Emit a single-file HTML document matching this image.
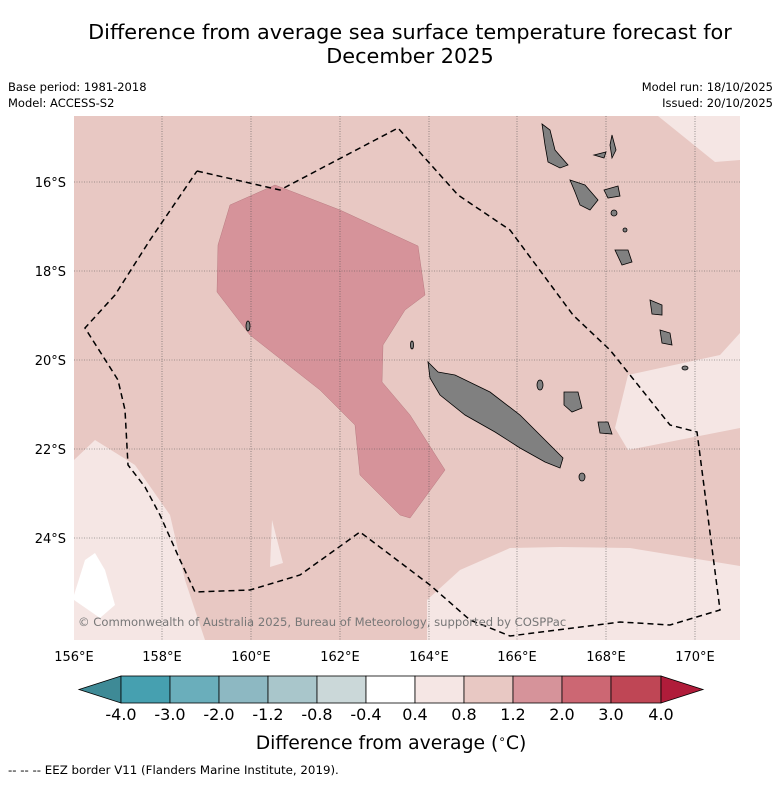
<!DOCTYPE html>
<html><head><meta charset="utf-8"><style>
body{margin:0;background:#fff;font-family:"Liberation Sans","DejaVu Sans",sans-serif;}
svg text{font-family:"DejaVu Sans","Liberation Sans",sans-serif;}
</style></head><body>
<svg width="781" height="781" viewBox="0 0 781 781">
<text x="410" y="39" text-anchor="middle" font-size="20.8">Difference from average sea surface temperature forecast for</text>
<text x="410" y="63" text-anchor="middle" font-size="20.8">December 2025</text>
<text x="8" y="91" font-size="11.5">Base period: 1981-2018</text>
<text x="8" y="107" font-size="11.5">Model: ACCESS-S2</text>
<text x="773" y="91" font-size="11.5" text-anchor="end">Model run: 18/10/2025</text>
<text x="773" y="107" font-size="11.5" text-anchor="end">Issued: 20/10/2025</text>
<defs><clipPath id="mc"><rect x="74" y="116" width="666" height="524"/></clipPath></defs>
<g clip-path="url(#mc)">
<rect x="74" y="116" width="666" height="524" fill="#e8c8c3"/>
<polygon fill="#d6939a" stroke="#b87a80" stroke-width="0.5" points="230,205 275,185 340,210 418,246 425,295 405,310 383,345 382,382 410,415 445,470 410,518 400,515 360,475 355,425 320,390 250,335 217,292 218,245"/>
<polygon fill="#f5e6e4" points="74,460 95,440 135,465 170,515 185,580 205,640 74,640"/>
<polygon fill="#fff" points="74,595 85,560 95,553 105,570 115,605 100,618 74,600"/>
<polygon fill="#f5e6e4" points="272,520 283,563 270,567"/>
<polygon fill="#f5e6e4" points="427,600 460,570 510,548 560,547 630,548 740,566 740,640 427,640"/>
<polygon fill="#f5e6e4" points="740,333 720,355 628,375 615,428 628,450 740,428"/>
<polygon fill="#f5e6e4" points="658,116 715,162 740,160 740,116"/>
<g stroke="#555" stroke-width="0.6" stroke-dasharray="1,1.5">
<line x1="162" y1="116" x2="162" y2="640"/><line x1="251" y1="116" x2="251" y2="640"/><line x1="340" y1="116" x2="340" y2="640"/><line x1="429" y1="116" x2="429" y2="640"/><line x1="517" y1="116" x2="517" y2="640"/><line x1="606" y1="116" x2="606" y2="640"/><line x1="695" y1="116" x2="695" y2="640"/>
<line x1="74" y1="182" x2="740" y2="182"/><line x1="74" y1="271" x2="740" y2="271"/><line x1="74" y1="360" x2="740" y2="360"/><line x1="74" y1="449" x2="740" y2="449"/><line x1="74" y1="538" x2="740" y2="538"/>
</g>
<g fill="#808080" stroke="#000" stroke-width="0.8">
<polygon points="428,362 438,372 455,375 490,392 520,415 545,440 563,458 560,468 545,462 520,448 495,432 465,415 440,395 430,378"/>
<polygon points="542,124 550,130 555,150 568,165 560,168 548,162 545,145"/>
<polygon points="570,180 585,185 598,200 590,210 580,205 575,192"/>
<polygon points="612,135 616,150 612,158 610,145"/>
<polygon points="594,155 606,152 604,158"/>
<polygon points="604,190 618,186 620,196 608,198"/>
<polygon points="615,250 628,250 632,262 622,265"/>
<polygon points="650,300 662,305 662,315 652,314"/>
<polygon points="660,330 670,333 672,345 662,343"/>
<polygon points="564,392 578,392 582,408 572,412 564,405"/>
<polygon points="598,422 608,422 612,434 600,433"/>
<ellipse cx="582" cy="477" rx="3" ry="4"/>
<ellipse cx="685" cy="368" rx="3" ry="2"/>
<ellipse cx="248" cy="326" rx="2" ry="5"/>
<ellipse cx="540" cy="385" rx="3" ry="5"/>
<ellipse cx="412" cy="345" rx="1.5" ry="4"/>
<ellipse cx="614" cy="213" rx="3" ry="3"/>
<ellipse cx="625" cy="230" rx="2" ry="2"/>
</g>
<polyline fill="none" stroke="#000" stroke-width="1.5" stroke-dasharray="6,4" points="197,171 280,190 398,128 458,195 510,230 573,315 610,350 630,375 670,425 697,432 720,610 670,625 620,622 510,636 470,620 430,585 360,532 300,575 250,590 195,592 180,560 160,515 145,487 128,465 125,410 118,380 85,328 115,295 150,240 197,171"/>
<text x="78" y="626" font-size="11.6" fill="#777">© Commonwealth of Australia 2025, Bureau of Meteorology, supported by COSPPac</text>
</g>
<g font-size="13">
<text x="74" y="661" text-anchor="middle">156°E</text><text x="162" y="661" text-anchor="middle">158°E</text><text x="251" y="661" text-anchor="middle">160°E</text><text x="340" y="661" text-anchor="middle">162°E</text><text x="429" y="661" text-anchor="middle">164°E</text><text x="517" y="661" text-anchor="middle">166°E</text><text x="606" y="661" text-anchor="middle">168°E</text><text x="695" y="661" text-anchor="middle">170°E</text>
</g>
<g font-size="13" text-anchor="end">
<text x="66" y="187">16°S</text><text x="66" y="276">18°S</text><text x="66" y="365">20°S</text><text x="66" y="454">22°S</text><text x="66" y="543">24°S</text>
</g>
<g stroke="#000" stroke-width="0.8">
<polygon points="121,676 79,689.5 121,703" fill="#3e8a96"/>
<rect x="121" y="676" width="49" height="27" fill="#46a0b0"/>
<rect x="170" y="676" width="49" height="27" fill="#6aaebb"/>
<rect x="219" y="676" width="49" height="27" fill="#8db8c2"/>
<rect x="268" y="676" width="49" height="27" fill="#a9c6cb"/>
<rect x="317" y="676" width="49" height="27" fill="#cbd8d9"/>
<rect x="366" y="676" width="49" height="27" fill="#ffffff"/>
<rect x="415" y="676" width="49" height="27" fill="#f5e6e4"/>
<rect x="464" y="676" width="49" height="27" fill="#e8c8c3"/>
<rect x="513" y="676" width="49" height="27" fill="#d6939a"/>
<rect x="562" y="676" width="49" height="27" fill="#cc6773"/>
<rect x="611" y="676" width="50" height="27" fill="#bf4655"/>
<polygon points="661,676 703,689.5 661,703" fill="#b01c3a"/>
</g>
<g font-size="16" text-anchor="middle">
<text x="121" y="720">-4.0</text><text x="170" y="720">-3.0</text><text x="219" y="720">-2.0</text><text x="268" y="720">-1.2</text><text x="317" y="720">-0.8</text><text x="366" y="720">-0.4</text><text x="415" y="720">0.4</text><text x="464" y="720">0.8</text><text x="513" y="720">1.2</text><text x="562" y="720">2.0</text><text x="611" y="720">3.0</text><text x="661" y="720">4.0</text>
</g>
<text x="391" y="749" font-size="18.8" text-anchor="middle">Difference from average (<tspan font-size="12" dy="-6">∘</tspan><tspan dy="6">C)</tspan></text>
<text x="8" y="774" font-size="11.8">--  --  -- EEZ border V11 (Flanders Marine Institute, 2019).</text>
</svg>
</body></html>
